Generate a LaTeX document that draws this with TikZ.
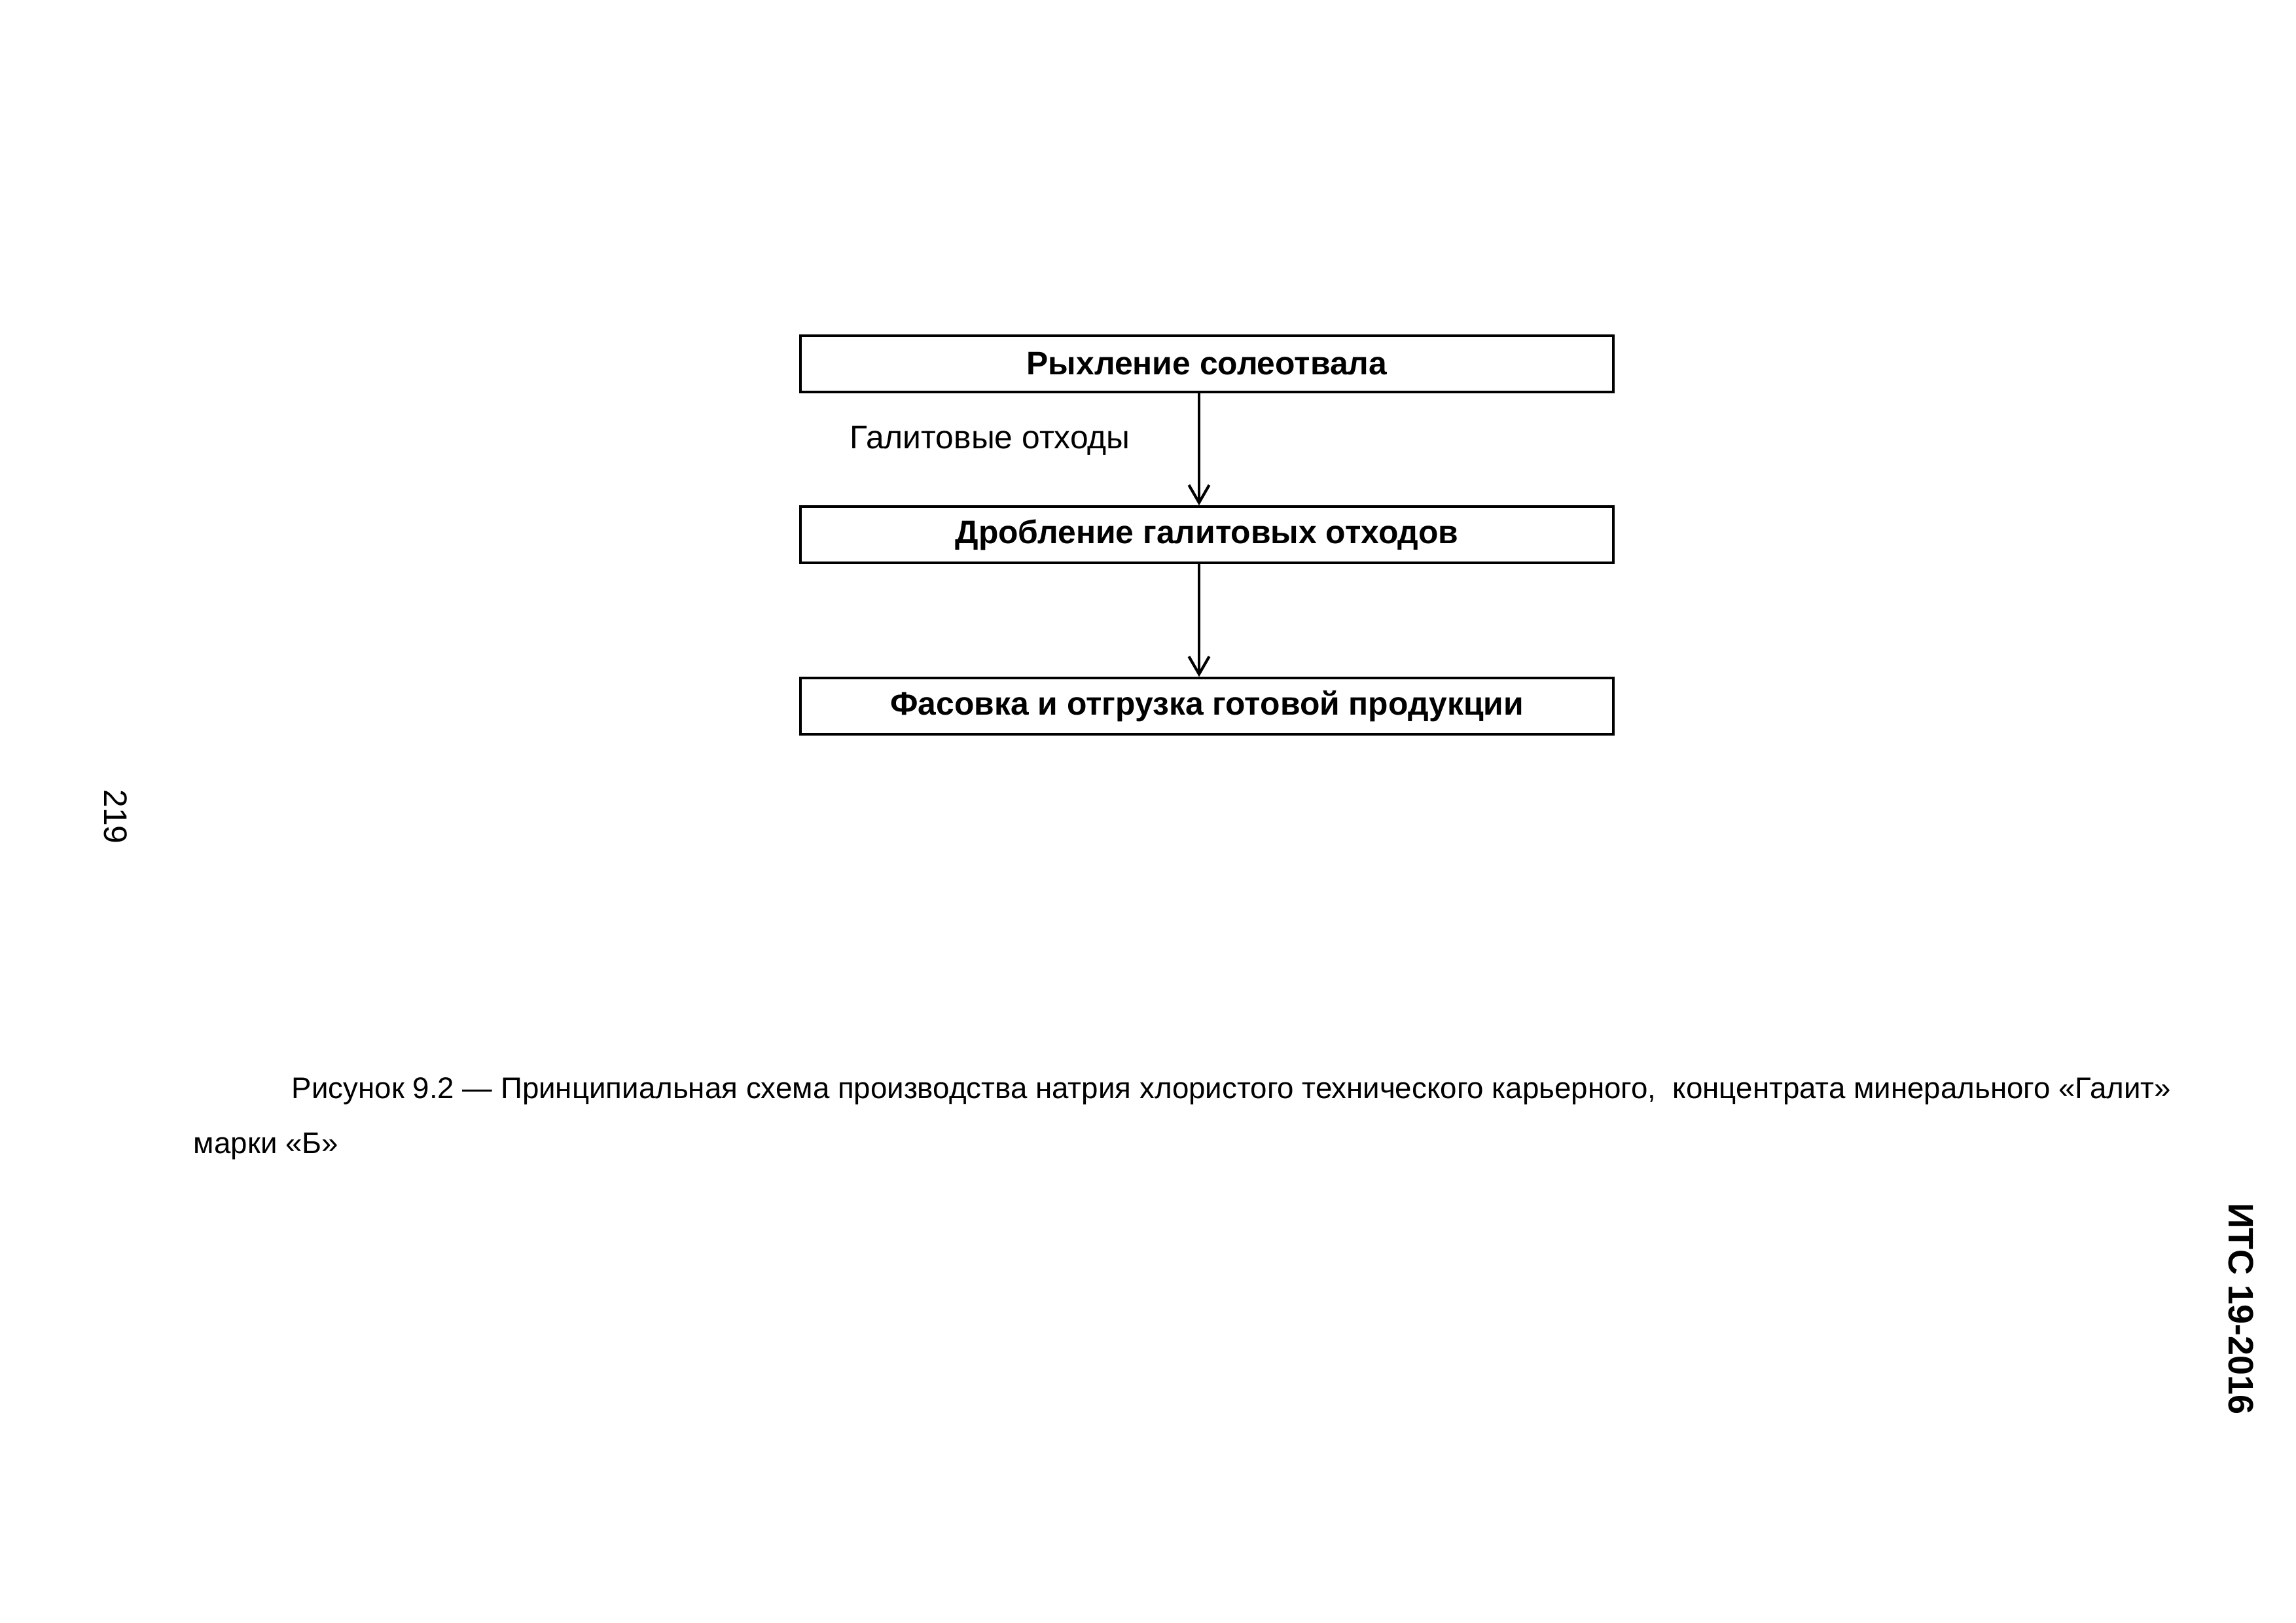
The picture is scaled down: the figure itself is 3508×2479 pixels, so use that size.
\documentclass[tikz,border=0pt]{standalone}
\usepackage{fontspec}
\setmainfont{Liberation Sans}
\usetikzlibrary{arrows.meta, positioning, calc}

\begin{document}
\begin{tikzpicture}[
    x=0.24bp, y=-0.24bp,
    font=\fontsize{12}{14}\selectfont,
    >={Straight Barb[length=6.5pt, width=7.5pt]},
    stage/.style={draw, line width=1pt, minimum width=298bp, minimum height=20.5bp, inner sep=0pt, align=center, font=\fontsize{12}{14}\selectfont\bfseries},
    flow/.style={->, line width=1pt},
    caption/.style={anchor=base west, inner sep=0pt, font=\fontsize{11}{13}\selectfont},
    margin/.style={rotate=-90, inner sep=0pt}
]
    \useasboundingbox (0,0) rectangle (3508,2479);

    % Stages
    \node[stage] (loosen) at (1844,556) {Рыхление солеотвала};
    \node[stage] (crush) at (1844,817) {Дробление галитовых отходов};
    \node[stage] (pack) at (1844,1079) {Фасовка и отгрузка готовой продукции};

    % Flows
    \coordinate (ax) at (1832,0);
    \draw[flow] (loosen.south -| ax) -- (crush.north -| ax);
    \draw[flow] (crush.south -| ax) -- (pack.north -| ax);
    \node[anchor=base west, inner sep=0pt] (waste) at (1298,685) {Галитовые отходы};

    % Caption
    \node[caption] (cap1) at (445,1678) {Рисунок 9.2 — Принципиальная схема производства натрия хлористого технического карьерного,\ \ концентрата минерального «Галит»};
    \node[caption] (cap2) at (295,1762) {марки «Б»};

    % Page margins
    \node[margin] (pageno) at (177,1248) {219};
    \node[margin, font=\fontsize{13}{15}\selectfont\bfseries] (docid) at (3424,2000) {ИТС 19-2016};
\end{tikzpicture}
\end{document}
